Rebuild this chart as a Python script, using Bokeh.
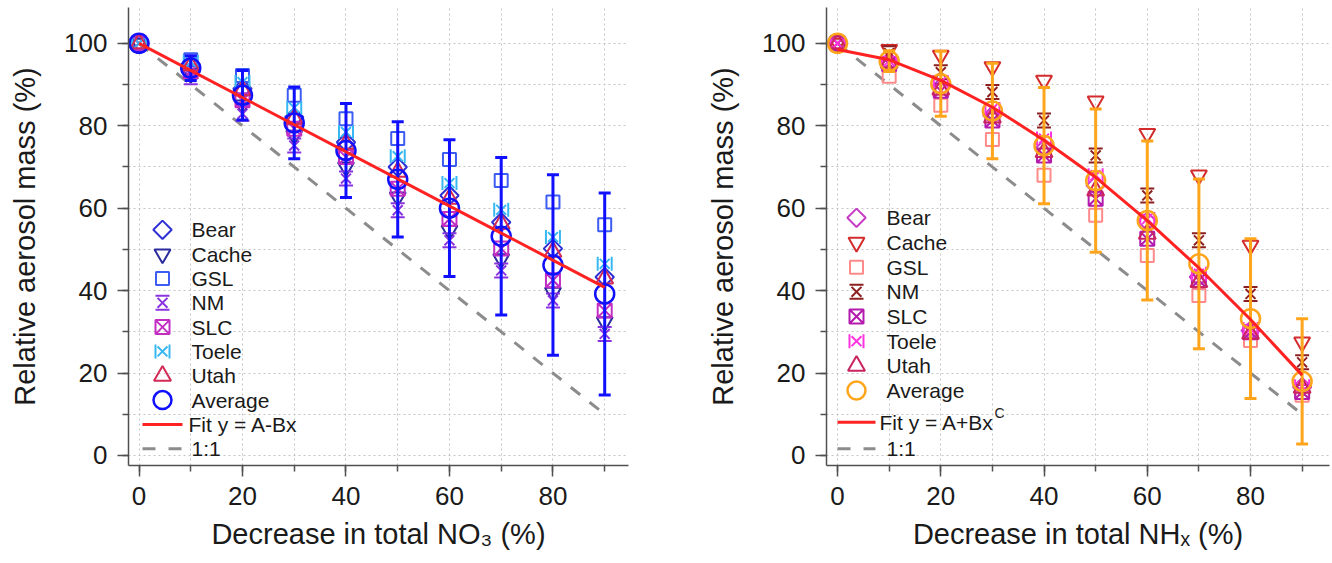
import numpy as np
from bokeh.plotting import figure
from bokeh.layouts import row
from bokeh.models import Range1d, SingleIntervalTicker
from bokeh.embed import file_html
from bokeh.resources import INLINE
from bokeh.core.properties import value

# ---------------- data ----------------
decrease = [0, 10, 20, 30, 40, 50, 60, 70, 80, 90]
sites = ["Bear", "Cache", "GSL", "NM", "SLC", "Toele", "Utah"]

no3_bear  = [100, 94.8, 89.0, 82.1, 76.0, 70.0, 63.1, 56.6, 50.2, 43.3]
no3_cache = [100, 92.6, 85.0, 77.7, 70.0, 62.7, 54.6, 47.7, 39.6, 32.4]
no3_gsl   = [100, 96.0, 92.2, 87.4, 81.7, 76.9, 71.8, 66.7, 61.5, 56.0]
no3_nm    = [100, 91.8, 82.9, 75.2, 67.2, 59.5, 52.2, 44.9, 37.6, 29.5]
no3_slc   = [100, 93.2, 86.2, 79.3, 72.4, 64.7, 57.4, 50.2, 42.5, 35.2]
no3_toele = [100, 95.5, 90.6, 84.4, 78.5, 72.6, 66.1, 59.6, 53.0, 46.5]
no3_utah  = [100, 94.6, 88.6, 81.7, 75.6, 68.8, 62.3, 56.2, 49.4, 42.9]
no3_avg   = [100, 94.0, 87.4, 80.7, 74.0, 67.0, 60.0, 53.2, 46.2, 39.2]
no3_err   = [0, 3.0, 6.0, 8.7, 11.4, 14.0, 16.6, 19.1, 21.9, 24.5]
no3_fit_x = [0, 90]
no3_fit_y = [100, 40.8]

nhx_bear  = [100, 95.5, 89.4, 82.5, 74.4, 65.5, 56.8, 43.3, 30.3, 16.6]
nhx_cache = [100, 98.5, 97.1, 94.3, 91.0, 86.0, 78.1, 68.0, 51.0, 27.5]
nhx_gsl   = [100, 92.0, 85.0, 76.7, 68.0, 58.3, 48.5, 38.8, 27.9, 14.6]
nhx_nm    = [100, 97.6, 93.0, 88.2, 81.3, 72.8, 63.1, 52.2, 39.2, 22.6]
nhx_slc   = [100, 95.0, 88.5, 81.3, 72.8, 62.3, 52.6, 42.5, 29.9, 15.4]
nhx_toele = [100, 95.8, 90.6, 84.1, 76.9, 68.0, 57.4, 44.1, 30.7, 16.8]
nhx_utah  = [100, 95.3, 88.8, 82.0, 73.6, 64.3, 53.8, 42.1, 29.5, 16.4]
nhx_avg   = [100, 95.7, 90.2, 83.6, 75.2, 66.7, 57.0, 46.5, 33.2, 18.0]
nhx_err   = [0, 2.5, 7.9, 11.6, 14.1, 17.4, 19.3, 20.6, 19.4, 15.2]
nhx_fit_x = [0, 10, 20, 30, 40, 50, 60, 70, 80, 90]
nhx_fit_y = [98.5, 96.0, 91.0, 84.5, 76.5, 67.5, 57.0, 45.5, 33.0, 19.5]

one_to_one_x = [0, 90]
one_to_one_y = [100, 10]

no3_colors = {"Bear": "#2f2fd6", "Cache": "#2b2b9e", "GSL": "#3d5cf2", "NM": "#8a34e0",
              "SLC": "#c22ec2", "Toele": "#38b8f2", "Utah": "#d42a56"}
nhx_colors = {"Bear": "#c63cc6", "Cache": "#d42c2c", "GSL": "#ff8a8a", "NM": "#8c1f1f",
              "SLC": "#b31aad", "Toele": "#ff33e0", "Utah": "#c92460"}
no3_avg_color = "#1010ff"
nhx_avg_color = "#ffa51c"

# ---------------- styling / layout ----------------
FONT = "Liberation Sans"
BTOP = 7
FH = 458
BBOT = 97
H = BTOP + FH + BBOT
Y_RANGE = (-2.43, 108.7)
PAGE_TOP = 0  # observed page origin offset

marker_style = {
    "Bear": ("diamond", 13),
    "Cache": ("inverted_triangle", 16),
    "GSL": ("square", 13),
    "NM": ("hourglass", 14),
    "SLC": ("square_x", 14),
    "Toele": ("bowtie", 14),
    "Utah": ("triangle", 17),
}


def draw_marker(p, kind, xs, ys, color, size, lw=2.0, rng=None):
    kw = dict(x_range_name=rng, y_range_name=rng) if rng else {}
    if kind == "diamond":
        p.scatter(xs, ys, marker="square", angle=np.pi / 4, size=size, fill_color=None,
                  line_color=color, line_width=lw, **kw)
    elif kind in ("hourglass", "bowtie"):
        p.scatter(xs, ys, marker="x", size=size, line_color=color, line_width=lw, **kw)
        p.scatter(xs, ys, marker="square", size=size, fill_color=None, line_color=color,
                  line_width=lw, line_dash=f"{size} {size}",
                  line_dash_offset=(0 if kind == "hourglass" else size), **kw)
    else:
        p.scatter(xs, ys, marker=kind, size=size, fill_color=None, line_color=color,
                  line_width=lw, **kw)


def make_fig(width, bl, br, xr, xlabel):
    p = figure(width=width, height=H, x_range=Range1d(*xr), y_range=Range1d(*Y_RANGE),
               output_backend="svg", toolbar_location=None,
               min_border_left=bl, min_border_right=br, min_border_top=BTOP,
               min_border_bottom=BBOT)
    p.outline_line_color = None
    for ax in (p.xaxis[0], p.yaxis[0]):
        ax.ticker = SingleIntervalTicker(interval=20, num_minor_ticks=2)
        ax.axis_line_color = "#505050"
        ax.axis_line_width = 1.5
        ax.major_tick_line_color = "#505050"
        ax.major_tick_line_width = 1.5
        ax.minor_tick_line_color = "#505050"
        ax.minor_tick_line_width = 1.5
        ax.major_tick_in = 0
        ax.major_tick_out = 11
        ax.minor_tick_in = 0
        ax.minor_tick_out = 6
        ax.major_label_text_font = FONT
        ax.major_label_text_font_size = "26px"
        ax.major_label_text_color = "#1a1a1a"
        ax.axis_label_text_font = FONT
        ax.axis_label_text_font_size = "29px"
        ax.axis_label_text_font_style = "normal"
        ax.axis_label_text_color = "#1a1a1a"
        ax.major_label_standoff = 10
    p.xaxis[0].axis_label = xlabel
    p.xaxis[0].axis_label_standoff = 10
    p.yaxis[0].axis_label = "Relative aerosol mass (%)"
    p.yaxis[0].axis_label_standoff = 20
    for g in (p.xgrid[0], p.ygrid[0]):
        g.ticker = SingleIntervalTicker(interval=10)
        g.grid_line_color = "#c4c4c4"
        g.grid_line_dash = "2 3"
        g.grid_line_width = 1
    fw = width - bl - br
    p.extra_x_ranges = {"px": Range1d(0, fw)}
    p.extra_y_ranges = {"px": Range1d(0, FH)}
    return p


def draw_panel(p, series, colors, avg, err, avg_color, fit_x, fit_y):
    p.line(one_to_one_x, one_to_one_y, line_color="#8c8c8c", line_width=3, line_dash="12 12")
    for s in sites:
        kind, size = marker_style[s]
        draw_marker(p, kind, decrease, series[s], colors[s], size)
    p.scatter(decrease, avg, marker="circle", size=19, fill_color=None,
              line_color=avg_color, line_width=2.5)
    ex = [x for x, e in zip(decrease, err) if e > 0]
    lo = [a - e for a, e in zip(avg, err) if e > 0]
    hi = [a + e for a, e in zip(avg, err) if e > 0]
    p.segment(ex, lo, ex, hi, line_color=avg_color, line_width=3)
    p.scatter(ex, lo, marker="dash", size=12, line_color=avg_color, line_width=3)
    p.scatter(ex, hi, marker="dash", size=12, line_color=avg_color, line_width=3)
    p.line(fit_x, fit_y, line_color="#ff2222", line_width=3)


def draw_legend(p, colors, avg_color, fit_label, rows_py, mx, tx, fit_tx, lx0, lx1):
    frame_bottom_page = PAGE_TOP + BTOP + FH
    fy = [frame_bottom_page - py for py in rows_py]
    for i, s in enumerate(sites):
        kind, size = marker_style[s]
        draw_marker(p, kind, [mx], [fy[i]], colors[s], size, rng="px")
    p.scatter([mx], [fy[7]], marker="circle", size=18, fill_color=None,
              line_color=avg_color, line_width=2.5, x_range_name="px", y_range_name="px")
    p.line([lx0, lx1], [fy[8], fy[8]], line_color="#ff2222", line_width=3,
           x_range_name="px", y_range_name="px")
    p.line([lx0, lx1], [fy[9], fy[9]], line_color="#8c8c8c", line_width=3, line_dash="13 13",
           x_range_name="px", y_range_name="px")
    labels = sites + ["Average", fit_label, "1:1"]
    txs = [tx] * 8 + [fit_tx, tx]
    p.text(txs, fy, text=labels, text_font=value(FONT), text_font_size="21px",
           text_baseline="middle", text_align="left", text_color="#1a1a1a",
           x_range_name="px", y_range_name="px")
    return fy


# ---------------- left panel ----------------
p1 = make_fig(660, 128, 32, (-2.03, 94.6), "Decrease in total NO\u2083 (%)")
no3_series = {"Bear": no3_bear, "Cache": no3_cache, "GSL": no3_gsl, "NM": no3_nm,
              "SLC": no3_slc, "Toele": no3_toele, "Utah": no3_utah}
draw_panel(p1, no3_series, no3_colors, no3_avg, no3_err, no3_avg_color, no3_fit_x, no3_fit_y)
left_rows = [229.3 + 24.33 * i for i in range(10)]
draw_legend(p1, no3_colors, no3_avg_color, "Fit y = A-Bx", left_rows,
            mx=34, tx=63, fit_tx=60, lx0=14, lx1=54)

# ---------------- right panel ----------------
p2 = make_fig(671, 166, 2, (-2.14, 95.3), "Decrease in total NH\u2093 (%)")
nhx_series = {"Bear": nhx_bear, "Cache": nhx_cache, "GSL": nhx_gsl, "NM": nhx_nm,
              "SLC": nhx_slc, "Toele": nhx_toele, "Utah": nhx_utah}
draw_panel(p2, nhx_series, nhx_colors, nhx_avg, nhx_err, nhx_avg_color, nhx_fit_x, nhx_fit_y)
right_rows = [217.3 + 24.67 * i for i in range(8)] + [421.7, 448.3]
fy2 = draw_legend(p2, nhx_colors, nhx_avg_color, "Fit y = A+Bx", right_rows,
                  mx=30, tx=60, fit_tx=53, lx0=11, lx1=49)
p2.text([168], [fy2[8] + 9], text=["C"], text_font=value(FONT), text_font_size="14px",
        text_baseline="middle", text_align="left", text_color="#1a1a1a",
        x_range_name="px", y_range_name="px")

layout = row(p1, p2)
open("out.html", "w").write(file_html(layout, INLINE))
